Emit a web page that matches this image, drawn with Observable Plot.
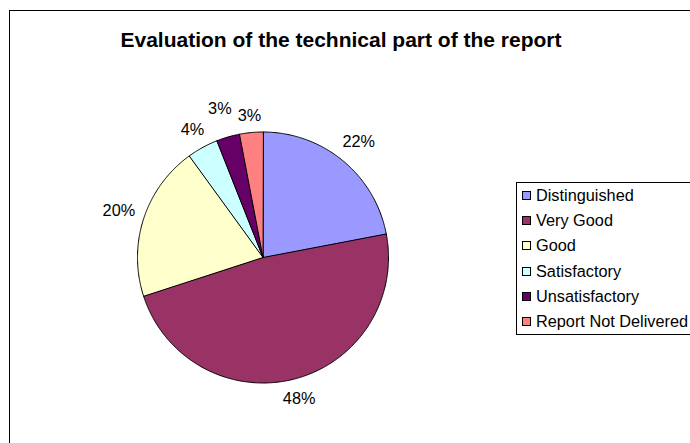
<!DOCTYPE html>
<html>
<head>
<meta charset="utf-8">
<script src="https://cdn.jsdelivr.net/npm/d3@7"></script>
<script src="https://cdn.jsdelivr.net/npm/@observablehq/plot@0.6"></script>
<style>
  html, body { margin: 0; padding: 0; background: #fff; overflow: hidden; }
  #wrap { position: relative; width: 690px; height: 443px; overflow: hidden; font-family: "Liberation Sans", Arial, sans-serif; }
  #frame { position: absolute; left: 9px; top: 10px; width: 720px; height: 470px; border: 1px solid #000; box-sizing: border-box; }
  #chart { position: absolute; left: 0; top: 0; }
  #title { position: absolute; left: 0; top: 28px; width: 682px; text-align: center; font-weight: bold; font-size: 21px; line-height: 24px; color: #000; }
  #legend { position: absolute; left: 516px; top: 182px; width: 240px; border: 1px solid #000; box-sizing: border-box; background: #fff; padding: 0; }
  .row { height: 25.2px; line-height: 25.2px; font-size: 16.3px; white-space: nowrap; position: relative; padding-left: 19px; color: #000; }
  .sw { position: absolute; left: 5px; top: 8px; width: 9px; height: 9px; border: 1px solid #000; box-sizing: border-box; }
</style>
</head>
<body>
<div id="wrap">
  <div id="frame"></div>
  <div id="chart"></div>
  <div id="title"></div>
  <div id="legend"></div>
</div>
<script>
const titleText = "Evaluation of the technical part of the report";
const categories = ["Distinguished", "Very Good", "Good", "Satisfactory", "Unsatisfactory", "Report Not Delivered"];
const percents = [22, 48, 20, 4, 3, 3];
const sliceLabels = ["22%", "48%", "20%", "4%", "3%", "3%"];
const colors = ["#9999FF", "#993366", "#FFFFCC", "#CCFFFF", "#660066", "#FF8080"];

const W = 690, H = 443, CX = 262.5, CY = 257, R = 125.5;
const FONT = 16.3;

// slice geometry (unit circle, clockwise from 12 o'clock)
const total = d3.sum(percents);
let acc = 0;
const slices = categories.map((c, i) => {
  const a0 = acc / total * 2 * Math.PI;
  acc += percents[i];
  const a1 = acc / total * 2 * Math.PI;
  return {c, i, a0, a1};
});
const pts = [];
for (const s of slices) {
  pts.push({c: s.c, x: 0, y: 0});
  const n = Math.max(2, Math.ceil((s.a1 - s.a0) / (Math.PI / 360)));
  for (let k = 0; k <= n; k++) {
    const a = s.a0 + (s.a1 - s.a0) * k / n;
    pts.push({c: s.c, x: Math.sin(a), y: Math.cos(a)});
  }
}

// label placement (outside end, with simple collision push-out)
const ctx = document.createElement("canvas").getContext("2d");
ctx.font = `${FONT}px "Liberation Sans", Arial, sans-serif`;
const labs = slices.map(s => {
  const t = sliceLabels[s.i];
  const w = ctx.measureText(t).width, h = FONT;
  const a = (s.a0 + s.a1) / 2;
  const sx = Math.sin(a), sy = Math.cos(a);
  const d = R + 8 + Math.abs(sx) * w / 2 + Math.abs(sy) * h / 2;
  return {t, w, h, sx, sy, d};
});
const placed = [];
for (let k = labs.length - 1; k >= 0; k--) {
  const L = labs[k];
  const pos = () => [L.sx * L.d, L.sy * L.d];
  let guard = 0;
  while (guard++ < 200) {
    const [px, py] = pos();
    const hit = placed.some(o => Math.abs(o.px - px) < (o.w + L.w) / 2 + 6 && Math.abs(o.py - py) < (o.h + L.h) / 2 + 2);
    if (!hit) break;
    L.d += 1;
  }
  const [px, py] = pos();
  L.px = px; L.py = py;
  placed.push(L);
}
const labelData = labs.map(L => ({t: L.t, x: L.px / R, y: L.py / R}));

const chart = Plot.plot({
  width: W,
  height: H,
  margin: 0,
  style: {background: "transparent", fontFamily: '"Liberation Sans", Arial, sans-serif', overflow: "visible"},
  x: {domain: [-CX / R, (W - CX) / R], range: [0, W], axis: null},
  y: {domain: [-(H - CY) / R, CY / R], range: [H, 0], axis: null},
  color: {domain: categories, range: colors},
  marks: [
    Plot.line(pts, {x: "x", y: "y", z: "c", fill: "c", stroke: "#000", strokeWidth: 1, curve: "linear-closed", strokeLinejoin: "miter"}),
    Plot.text(labelData, {x: "x", y: "y", text: "t", fontSize: FONT, fill: "#000", textAnchor: "middle", lineAnchor: "middle"})
  ]
});
document.getElementById("chart").appendChild(chart);
document.getElementById("title").textContent = titleText;

const color = chart.scale("color");
const leg = document.getElementById("legend");
categories.forEach((c, i) => {
  const row = document.createElement("div");
  row.className = "row";
  const sw = document.createElement("span");
  sw.className = "sw";
  sw.style.background = color.apply(c);
  row.appendChild(sw);
  row.appendChild(document.createTextNode(c));
  leg.appendChild(row);
});
</script>
</body>
</html>
